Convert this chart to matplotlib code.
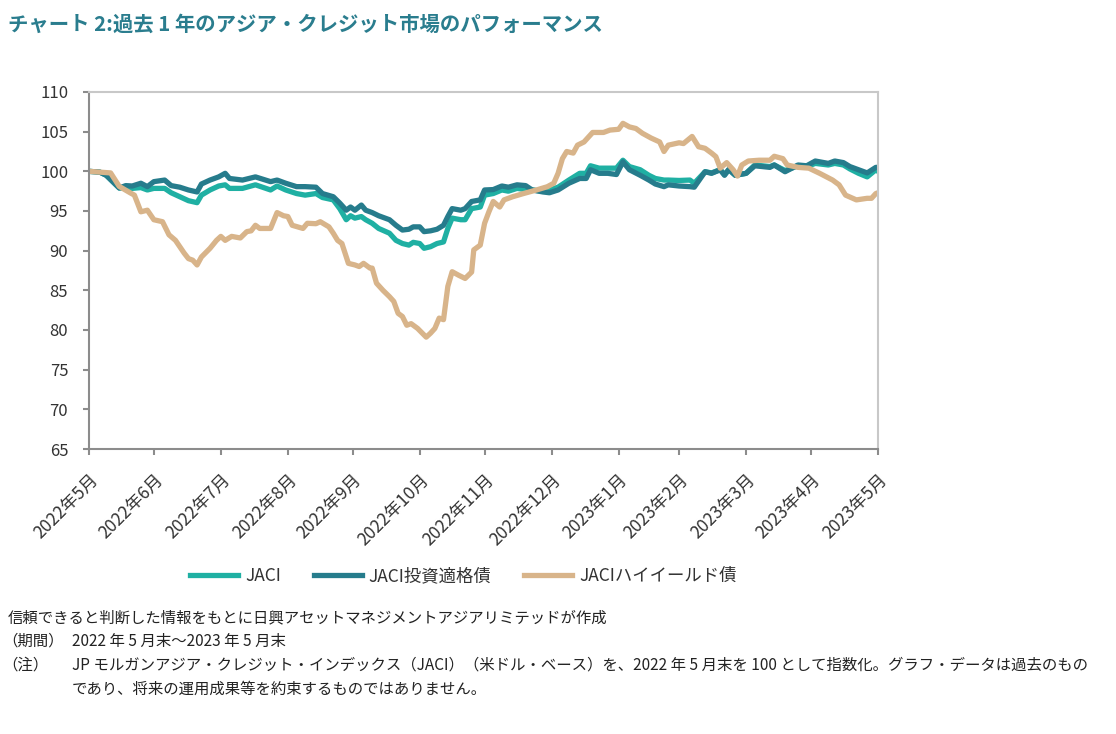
import matplotlib
matplotlib.use("Agg")
import matplotlib.pyplot as plt
import pandas as pd

plt.rcParams['font.family'] = ['Noto Sans CJK JP', 'DejaVu Sans']

# ---------------- data ----------------
hy_dates = [
    '2022-05-31',
    '2022-06-05', '2022-06-10', '2022-06-14', '2022-06-19', '2022-06-21', '2022-06-24', '2022-06-27', '2022-06-30',
    '2022-07-04', '2022-07-07', '2022-07-10', '2022-07-14', '2022-07-16', '2022-07-18', '2022-07-20', '2022-07-22',
    '2022-07-26', '2022-07-29', '2022-07-31',
    '2022-08-02', '2022-08-05', '2022-08-09', '2022-08-12', '2022-08-14', '2022-08-16', '2022-08-18', '2022-08-23',
    '2022-08-26', '2022-08-29', '2022-08-31',
    '2022-09-02', '2022-09-07', '2022-09-09', '2022-09-13', '2022-09-15', '2022-09-19', '2022-09-21', '2022-09-23',
    '2022-09-25', '2022-09-28',
    '2022-10-01', '2022-10-03', '2022-10-05', '2022-10-08', '2022-10-09', '2022-10-11', '2022-10-14', '2022-10-17',
    '2022-10-19', '2022-10-21', '2022-10-23', '2022-10-25', '2022-10-27', '2022-10-30',
    '2022-11-03', '2022-11-05', '2022-11-07', '2022-11-09', '2022-11-11', '2022-11-13', '2022-11-15', '2022-11-18',
    '2022-11-21', '2022-11-24', '2022-11-25', '2022-11-28', '2022-11-30',
    '2022-12-02', '2022-12-04', '2022-12-07', '2022-12-09', '2022-12-13', '2022-12-18', '2022-12-24', '2022-12-29',
    '2023-01-01', '2023-01-03', '2023-01-05', '2023-01-07', '2023-01-10', '2023-01-12', '2023-01-15', '2023-01-19',
    '2023-01-24', '2023-01-27', '2023-01-31',
    '2023-02-02', '2023-02-05', '2023-02-08', '2023-02-11', '2023-02-15', '2023-02-19', '2023-02-21', '2023-02-23',
    '2023-02-28',
    '2023-03-02', '2023-03-06', '2023-03-09', '2023-03-12', '2023-03-15', '2023-03-17', '2023-03-19', '2023-03-22',
    '2023-03-25', '2023-03-27', '2023-03-29',
    '2023-04-01', '2023-04-06', '2023-04-11', '2023-04-13', '2023-04-17', '2023-04-19', '2023-04-24', '2023-04-29',
    '2023-05-04', '2023-05-10', '2023-05-13', '2023-05-16', '2023-05-21', '2023-05-26', '2023-05-28', '2023-05-30',
    '2023-05-31',
]
hy_values = [
    100.0,
    99.9, 99.8, 98.1, 97.3, 97.0, 94.9, 95.1, 93.9,
    93.65, 92.0, 91.3, 89.7, 89.0, 88.8, 88.2, 89.2, 90.3, 91.3, 91.8,
    91.3, 91.8, 91.6, 92.4, 92.5, 93.2, 92.8, 92.8, 94.8, 94.4, 94.3,
    93.2, 92.8, 93.45, 93.4, 93.65, 93.0, 92.2, 91.3, 90.9, 88.4,
    88.2, 88.0, 88.4, 87.8, 87.8, 85.9, 85.0, 84.2, 83.6, 82.1, 81.7, 80.6, 80.8, 80.2,
    79.1, 79.6, 80.2, 81.5, 81.3, 85.5, 87.35, 86.9, 86.5, 87.3, 90.1, 90.7, 93.45,
    94.9, 96.2, 95.5, 96.4, 96.8, 97.2, 97.65, 98.06,
    98.5, 99.75, 101.6, 102.5, 102.3, 103.3, 103.7, 104.9, 104.9, 105.2, 105.3,
    106.05, 105.6, 105.4, 104.8, 104.2, 103.7, 102.5, 103.3, 103.6,
    103.5, 104.4, 103.1, 102.9, 102.3, 101.85, 100.4, 101.1, 100.2, 99.4, 100.8,
    101.3, 101.4, 101.4, 101.9, 101.6, 100.8, 100.5, 100.4,
    99.75, 98.9, 98.3, 97.0, 96.4, 96.6, 96.6, 97.2, 97.3,
]

ig_dates = [
    '2022-05-31', '2022-06-05', '2022-06-08', '2022-06-14', '2022-06-17', '2022-06-20', '2022-06-24', '2022-06-27',
    '2022-06-30',
    '2022-07-05', '2022-07-08', '2022-07-12', '2022-07-16', '2022-07-20', '2022-07-22', '2022-07-26', '2022-07-30',
    '2022-08-02', '2022-08-04', '2022-08-10', '2022-08-16', '2022-08-23', '2022-08-26', '2022-08-30',
    '2022-09-04', '2022-09-08', '2022-09-13', '2022-09-16', '2022-09-21', '2022-09-24', '2022-09-27', '2022-09-29',
    '2022-10-01', '2022-10-04', '2022-10-06', '2022-10-09', '2022-10-12', '2022-10-17', '2022-10-20', '2022-10-23',
    '2022-10-26', '2022-10-28', '2022-10-31',
    '2022-11-02', '2022-11-05', '2022-11-08', '2022-11-11', '2022-11-13', '2022-11-15', '2022-11-19', '2022-11-21',
    '2022-11-24', '2022-11-28', '2022-11-30',
    '2022-12-04', '2022-12-08', '2022-12-11', '2022-12-15', '2022-12-19', '2022-12-22', '2022-12-27', '2022-12-30',
    '2023-01-03', '2023-01-08', '2023-01-13', '2023-01-16', '2023-01-18', '2023-01-22', '2023-01-26', '2023-01-30',
    '2023-02-02', '2023-02-05', '2023-02-10', '2023-02-14', '2023-02-17', '2023-02-21', '2023-02-23', '2023-02-28',
    '2023-03-05', '2023-03-07', '2023-03-12', '2023-03-15', '2023-03-19', '2023-03-21', '2023-03-23', '2023-03-26',
    '2023-03-31',
    '2023-04-04', '2023-04-11', '2023-04-13', '2023-04-18', '2023-04-24', '2023-04-28',
    '2023-05-02', '2023-05-08', '2023-05-11', '2023-05-15', '2023-05-18', '2023-05-22', '2023-05-26', '2023-05-30',
    '2023-05-31',
]
ig_values = [
    100.0, 99.9, 99.5, 97.9, 98.2, 98.15, 98.5, 98.07, 98.7,
    98.9, 98.2, 98.0, 97.65, 97.4, 98.4, 98.9, 99.3,
    99.75, 99.1, 98.9, 99.3, 98.7, 98.9, 98.5,
    98.07, 98.07, 98.0, 97.2, 96.8, 96.0, 95.1, 95.5,
    95.1, 95.75, 95.1, 94.8, 94.4, 93.9, 93.2, 92.6, 92.7, 93.0, 93.0,
    92.4, 92.5, 92.7, 93.2, 94.3, 95.3, 95.1, 95.3, 96.2, 96.4, 97.65,
    97.7, 98.15, 98.0, 98.3, 98.2, 97.65, 97.4, 97.3,
    97.65, 98.5, 99.1, 99.1, 100.2, 99.75, 99.75, 99.6,
    101.2, 100.2, 99.5, 98.9, 98.4, 98.07, 98.3, 98.15,
    98.07, 98.0, 99.95, 99.75, 100.2, 99.5, 100.25, 99.5, 99.75,
    100.7, 100.5, 100.8, 99.95, 100.8, 100.7,
    101.3, 101.0, 101.3, 101.1, 100.6, 100.2, 99.8, 100.5, 100.5,
]
jaci_dates = ig_dates
jaci_values = [
    100.0, 99.9, 99.5, 97.9, 97.85, 97.85, 97.95, 97.65, 97.85,
    97.85, 97.3, 96.8, 96.3, 96.05, 97.0, 97.65, 98.15,
    98.3, 97.85, 97.85, 98.3, 97.65, 98.15, 97.65,
    97.2, 97.0, 97.2, 96.7, 96.4, 95.3, 93.9, 94.4,
    94.1, 94.3, 93.9, 93.45, 92.8, 92.2, 91.3, 90.9, 90.7, 91.05, 90.9,
    90.3, 90.5, 90.9, 91.1, 92.8, 94.1, 93.9, 93.9, 95.3, 95.5, 97.0,
    97.2, 97.65, 97.5, 97.85, 97.7, 97.65, 97.5, 97.65,
    98.0, 98.9, 99.75, 99.75, 100.7, 100.4, 100.4, 100.4,
    101.4, 100.6, 100.2, 99.5, 99.1, 98.9, 98.9, 98.85,
    98.9, 98.5, 99.95, 99.8, 100.2, 99.6, 100.2, 99.5, 99.75,
    100.8, 100.6, 100.8, 100.1, 100.7, 100.6,
    101.0, 100.8, 101.0, 100.8, 100.3, 99.75, 99.3, 100.2, 100.0,
]

series_names = ['JACI', 'JACI投資適格債', 'JACIハイイールド債']
tick_dates = ['2022-05-31', '2022-06-30', '2022-07-31', '2022-08-31', '2022-09-30', '2022-10-31', '2022-11-30',
              '2022-12-31', '2023-01-31', '2023-02-28', '2023-03-31', '2023-04-30', '2023-05-31']
tick_labels = ['2022年5月', '2022年6月', '2022年7月', '2022年8月', '2022年9月', '2022年10月', '2022年11月',
               '2022年12月', '2023年1月', '2023年2月', '2023年3月', '2023年4月', '2023年5月']
y_ticks = [65, 70, 75, 80, 85, 90, 95, 100, 105, 110]

title = 'チャート 2:過去 1 年のアジア・クレジット市場のパフォーマンス'
note_source = '信頼できると判断した情報をもとに日興アセットマネジメントアジアリミテッドが作成'
note_period_label = '（期間）'
note_period = '2022 年 5 月末～2023 年 5 月末'
note_label = '（注）'
note_line1 = 'JP モルガンアジア・クレジット・インデックス（JACI）（米ドル・ベース）を、2022 年 5 月末を 100 として指数化。グラフ・データは過去のもの'
note_line2 = 'であり、将来の運用成果等を約束するものではありません。'

# ---------------- plot ----------------
c_jaci = '#1fb0a3'
c_ig = '#267c8c'
c_hy = '#d8b48a'

fig = plt.figure(figsize=(11.16, 7.34), dpi=100)
ax = fig.add_axes([89 / 1116, 1 - 449 / 734, (878 - 89) / 1116, (449 - 92) / 734])

lw = 3.8
l1, = ax.plot(pd.to_datetime(jaci_dates), jaci_values, color=c_jaci, lw=lw, solid_joinstyle='round',
              label=series_names[0])
l2, = ax.plot(pd.to_datetime(ig_dates), ig_values, color=c_ig, lw=lw, solid_joinstyle='round',
              label=series_names[1])
l3, = ax.plot(pd.to_datetime(hy_dates), hy_values, color=c_hy, lw=lw, solid_joinstyle='round',
              label=series_names[2])

ax.set_xlim(pd.Timestamp('2022-05-31'), pd.Timestamp('2023-05-31'))
ax.set_ylim(65, 110)
ax.set_yticks(y_ticks)
ax.set_yticklabels([str(v) for v in y_ticks], fontsize=12, color='#333333')
ax.set_xticks(pd.to_datetime(tick_dates))
ax.set_xticklabels(tick_labels, rotation=45, ha='right', rotation_mode='anchor', fontsize=12.5, color='#333333')

for s in ['top', 'right']:
    ax.spines[s].set_color('#c8c8c8')
    ax.spines[s].set_linewidth(1.5)
for s in ['left', 'bottom']:
    ax.spines[s].set_color('#8c8c8c')
    ax.spines[s].set_linewidth(1.5)
ax.tick_params(axis='both', direction='out', length=4.5, width=1.5, color='#8c8c8c')
ax.tick_params(axis='y', pad=10.5)
ax.tick_params(axis='x', pad=11)

fig.legend(handles=[l1, l2, l3], loc='center', bbox_to_anchor=(0.4153, 1 - 576 / 734), ncol=3, frameon=False,
           fontsize=12.5, handlelength=2.75, columnspacing=1.9, handletextpad=0.4, labelcolor='#333333')

fig.text(8 / 1116, 1 - 24 / 734, title, fontsize=14.7, fontweight='bold', color='#2a7d8e', va='center', ha='left')

fs = 11.1
tc = '#222222'
fig.text(8 / 1116, 1 - 618 / 734, note_source, fontsize=fs, color=tc, va='center')
fig.text(2 / 1116, 1 - 641 / 734, note_period_label, fontsize=fs, color=tc, va='center')
fig.text(72 / 1116, 1 - 641 / 734, note_period, fontsize=fs, color=tc, va='center')
fig.text(2 / 1116, 1 - 665 / 734, note_label, fontsize=fs, color=tc, va='center')
fig.text(72 / 1116, 1 - 665 / 734, note_line1, fontsize=fs, color=tc, va='center')
fig.text(72 / 1116, 1 - 689 / 734, note_line2, fontsize=fs, color=tc, va='center')

fig.savefig('out.png', dpi=100)
